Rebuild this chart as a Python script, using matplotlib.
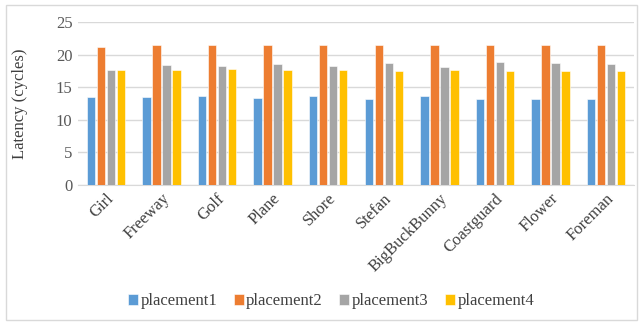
import matplotlib
matplotlib.use('Agg')
import matplotlib.pyplot as plt
import numpy as np

videos = ['Girl', 'Freeway', 'Golf', 'Plane', 'Shore', 'Stefan',
          'BigBuckBunny', 'Coastguard', 'Flower', 'Foreman']
placement1 = [13.45, 13.5, 13.65, 13.4, 13.6, 13.2, 13.6, 13.15, 13.25, 13.25]
placement2 = [21.1, 21.5, 21.45, 21.45, 21.45, 21.5, 21.4, 21.5, 21.5, 21.5]
placement3 = [17.6, 18.4, 18.2, 18.5, 18.2, 18.65, 18.1, 18.8, 18.7, 18.55]
placement4 = [17.6, 17.7, 17.8, 17.6, 17.7, 17.5, 17.7, 17.5, 17.5, 17.5]
series = [placement1, placement2, placement3, placement4]
names = ['placement1', 'placement2', 'placement3', 'placement4']
colors = ['#5B9BD5', '#ED7D31', '#A5A5A5', '#FFC000']

plt.rcParams['font.family'] = ['Liberation Serif', 'DejaVu Serif']

fig = plt.figure(figsize=(6.43, 3.22), dpi=100)
ax = fig.add_axes([0.1213, 0.4255, 0.8647, 0.5062])

x = np.arange(len(videos))
step = 0.18
width = 0.15
for i, (vals, name, c) in enumerate(zip(series, names, colors)):
    ax.bar(x + (i - 1.5) * step, vals, width, color=c, label=name,
           edgecolor='white', linewidth=0.4, zorder=3)

ax.set_xlim(-0.5, len(videos) - 0.5)
ax.set_ylim(0, 25)
ax.set_yticks(range(0, 26, 5))
ax.yaxis.grid(True, color='#d9d9d9', linewidth=1, zorder=0)
for s in ['top', 'right', 'left']:
    ax.spines[s].set_visible(False)
ax.spines['bottom'].set_color('#d9d9d9')
ax.tick_params(axis='both', length=0, labelsize=12, colors='#595959')
ax.tick_params(axis='y', pad=4)
ax.set_xticks(x)
ax.set_xticklabels(videos, rotation=45, ha='right', rotation_mode='anchor',
                   color='#404040')
ax.tick_params(axis='x', pad=4)
ax.set_ylabel('Latency (cycles)', fontsize=12, color='#404040', labelpad=20)

fig.legend(loc='center', bbox_to_anchor=(0.515, 0.064), ncol=4, frameon=False,
           fontsize=12, handlelength=0.6, handleheight=0.6, handletextpad=0.15,
           columnspacing=1.0, labelcolor='#404040')

border = plt.Rectangle((0.009, 0.006), 0.982, 0.978, transform=fig.transFigure,
                       fill=False, edgecolor='#d9d9d9', linewidth=1)
fig.patches.append(border)

fig.savefig('out.png', dpi=100)
